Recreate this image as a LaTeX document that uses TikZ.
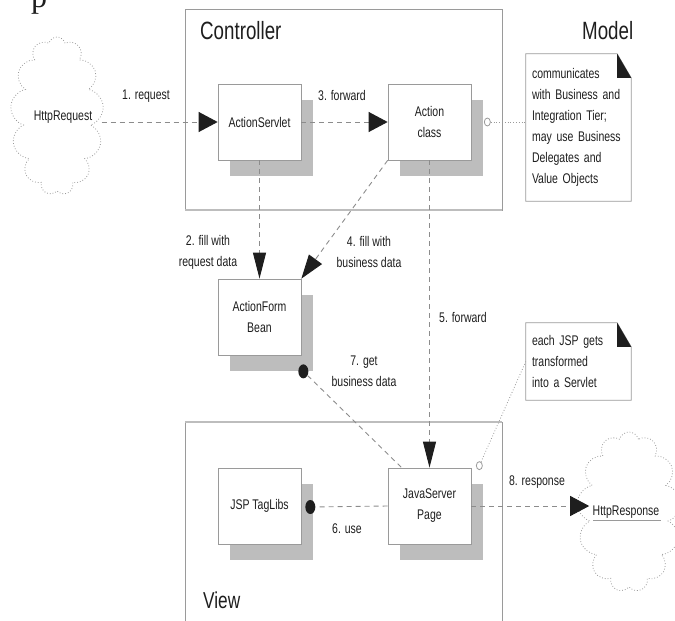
\documentclass[tikz,border=0pt]{standalone}
\usepackage{fontspec}
\setmainfont{Liberation Sans}[FakeStretch=0.75]
\newfontfamily\serifpart{Liberation Serif}
\usetikzlibrary{arrows.meta,shapes.symbols,shapes.geometric,shadows,calc}

\definecolor{ink}{HTML}{1E1E1E}
\definecolor{edge}{HTML}{9A9A9A}
\definecolor{shade}{HTML}{BDBDBD}
\definecolor{wire}{HTML}{8C8C8C}

\begin{document}
\begin{tikzpicture}[x=1pt,y=-1pt,
  every node/.style={text=ink},
  small/.style={font=\fontsize{14}{21}\selectfont, align=center},
  big/.style={font=\fontsize{25}{30}\selectfont, inner sep=0pt, anchor=base west},
  comp/.style={small, draw=edge, line width=0.7pt, fill=white,
    minimum width=83pt, minimum height=76pt, inner sep=0pt,
    drop shadow={shadow xshift=12pt, shadow yshift=-16pt, fill=shade, opacity=1}},
  note/.style={small, align=left, text width=93pt, inner sep=6pt, minimum width=105pt},
  frame/.style={draw=edge, line width=0.7pt},
  rim/.style={draw=shade, line width=2.6pt},
  flow/.style={draw=wire, line width=0.9pt, dash pattern=on 5pt off 4pt},
  link/.style={draw=edge, line width=0.8pt, dotted},
  hhead/.style={-{Triangle[length=19pt,width=20pt,color=ink]}},
  vhead/.style={-{Triangle[length=26pt,width=13pt,color=ink]}},
  dhead/.style={-{Triangle[length=24pt,width=16pt,color=ink]}},
  port/.style={ellipse, draw=edge, line width=0.8pt, fill=white, minimum width=6pt, minimum height=8pt, inner sep=0pt},
  blob/.style={ellipse, fill=ink, minimum width=10pt, minimum height=14pt, inner sep=0pt},
  puff/.style={cloud, cloud puffs=13, cloud ignores aspect, draw=edge, dotted, line width=0.8pt, inner sep=0pt}
]
\useasboundingbox (0,0) rectangle (675,621);

% fragment of a glyph from the line above
\node[font=\serifpart\fontsize{32}{32}\selectfont, anchor=base west, inner sep=0pt] (frag) at (31,8) {p};

% tier frames
\draw[frame] (185,9) rectangle (502,210);
\draw[rim] (185,210) -- (502,210);
\draw[frame] (185,640) -- (185,422) -- (502,422) -- (502,640);
\draw[rim] (185,422) -- (502,422);

\node[big] (ctrl) at (200,39) {Controller};
\node[big] (model) at (582,39) {Model};
\node[big, font=\fontsize{23}{28}\selectfont] (view) at (203,608) {View};

% components
\node[comp] (servlet) at (259.5,122) {ActionServlet};
\node[comp] (action) at (429.5,122) {Action\\class};
\node[comp] (form) at (259.5,317) {ActionForm\\Bean};
\node[comp] (taglibs) at (259.5,506) {JSP TagLibs};
\node[comp] (jsp) at (429.5,506) {JavaServer\\Page};

% clouds
\node[puff, minimum width=93pt, minimum height=158pt] (reqcloud) at (57,116) {};
\node[small] (req) at (63,117) {HttpRequest};
\node[puff, minimum width=104pt, minimum height=160pt] (respcloud) at (629,512) {};
\node[small] (resp) at (626,512) {HttpResponse};
\draw[draw=edge, line width=0.6pt] ($(resp.base west)+(4,5)$) -- ($(resp.base east)+(-2,5)$);

% notes with folded corner
\node[note, minimum height=147pt] (note1) at (578.5,127.5)
  {communicates\\with Business and\\Integration Tier;\\may use Business\\Delegates and\\Value Objects};
\node[note, minimum height=77pt] (note2) at (578.5,361.5)
  {each JSP gets\\transformed\\into a Servlet};
\foreach \n in {note1,note2}{
  \draw[frame] (\n.north west) -- ($(\n.north east)+(-14,0)$) -- ($(\n.north east)+(0,24)$)
    -- (\n.south east) -- (\n.south west) -- cycle;
  \fill[ink] ($(\n.north east)+(-14,0)$) -- ($(\n.north east)+(-14,24)$) -- ($(\n.north east)+(0,24)$) -- cycle;
}

% ports and attachment points
\node[port] (actport) at ($(action.east)+(16,0)$) {};
\node[port] (jspport) at ($(jsp.north east)+(8,-2)$) {};
\node[blob] (formdot) at ($(form.south east)+(2,16)$) {};
\node[blob] (tagdot) at ($(taglibs.east)+(9,1)$) {};
\coordinate (jspin) at ($(jsp.north west)+(14,0)$);

% connectors
\draw[flow, hhead] (reqcloud.east |- servlet.west) -- (servlet.west);
\draw[flow, vhead] (servlet.south) -- (form.north);
\draw[flow, hhead] (servlet.east) -- (action.west);
\draw[flow, dhead] (action.south west) -- (form.north east);
\draw[flow, vhead] (action.south) -- (jsp.north);
\draw[flow] (jsp.west) -- (tagdot);
\draw[flow] (formdot) -- (jspin);
\draw[flow, hhead] (jsp.east) -- (jsp.east -| resp.west);
\draw[link] (actport) -- (note1.west |- actport);
\draw[link] (jspport) -- (note2.west);

% connector labels
\node[small] (l1) at (146,96) {1. request};
\node[small] (l2) at (208,252) {2. fill with\\request data};
\node[small] (l3) at (342,95) {3. forward};
\node[small] (l4) at (369,252) {4. fill with\\business data};
\node[small] (l5) at (463,317) {5. forward};
\node[small] (l6) at (347,529) {6. use};
\node[small] (l7) at (364,371) {7. get\\business data};
\node[small] (l8) at (537,482) {8. response};
\end{tikzpicture}
\end{document}
